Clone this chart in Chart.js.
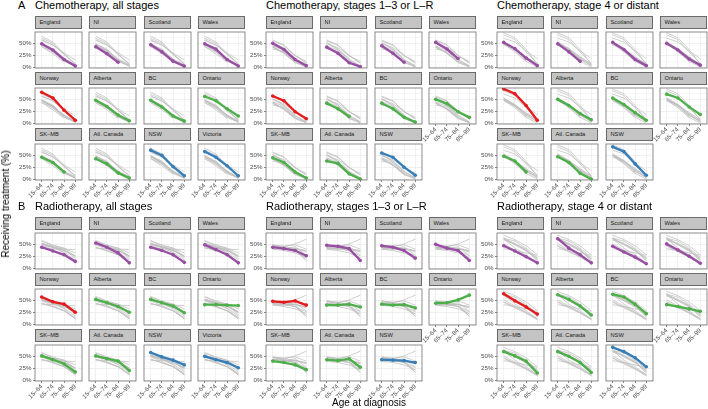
<!DOCTYPE html>
<html><head><meta charset="utf-8">
<script src="https://cdn.jsdelivr.net/npm/chart.js@4.4.1/dist/chart.umd.min.js"></script>
<style>
body{margin:0;width:708px;height:409px;background:#fff;position:relative;overflow:hidden;font-family:"Liberation Sans",Arial,sans-serif}
.t{position:absolute;white-space:nowrap;color:#000}
.strip{position:absolute;box-sizing:border-box;border:1px solid #6a6a6a;background:#c4c4c4;font-size:5.7px;color:#1a1a1a;padding-left:3.5px;line-height:11px;white-space:nowrap;overflow:hidden}
canvas{position:absolute}
</style></head><body>
<script>
// ---------- data ----------
const ageGroups = ["15–64","65–74","75–84","85–99"];
const jurisdictions = ["England","NI","Scotland","Wales","Norway","Alberta","BC","Ontario","SK–MB","Atl. Canada","NSW","Victoria"];
const jurisdictionColors = ["#984EA3","#984EA3","#984EA3","#984EA3","#E41A1C","#4DAF4A","#4DAF4A","#4DAF4A","#4DAF4A","#4DAF4A","#377EB8","#377EB8"];
const yTicks = [0, 0.125, 0.25, 0.375, 0.5, 0.625];

// percent receiving treatment, by age group (null = not shown)
const chemoAll = [
  [49,36,16,2],[43,28,10,null],[47,32,12,2],[49,38,16,2],
  [65,53,27,6],[48,35,17,5],[48,34,15,4],[56,47,30,15],
  [46,35,15,null],[43,32,13,2],[61,50,26,7],[58,46,28,7]
];
const chemoEarly = [
  [50,37,16,3],[42,29,9,1],[45,29,10,null],[52,38,18,null],
  [57,47,24,9],[42,30,14,null],[42,30,12,2],[50,41,24,12],
  [45,35,15,2],[38,33,11,0],[55,46,25,8]
];
const chemoLate = [
  [52,39,19,3],[49,32,12,null],[52,37,16,3],[50,36,17,4],
  [72,62,37,6],[50,37,20,7],[53,39,22,6],[61,53,34,18],
  [48,38,15,null],[47,35,12,0],[68,58,32,8]
];
const radioAll = [
  [44,36,28,14],[53,44,32,11],[44,37,28,12],[49,39,28,11],
  [57,47,42,25],[52,45,37,25],[52,45,38,24],[41,41,40,39],
  [51,43,34,17],[51,45,40,20],[58,49,42,32],[50,43,37,26]
];
const radioEarly = [
  [44,41,37,26],[48,46,41,16],[47,44,37,21],[50,42,37,16],
  [48,46,49,40],[40,40,42,36],[42,40,41,34],[44,45,51,61],
  [40,37,32,22],[43,41,45,27],[43,42,41,37]
];
const radioLate = [
  [47,36,24,11],[62,42,28,11],[46,34,23,9],[51,38,25,10],
  [64,49,36,21],[62,52,38,19],[63,57,42,22],[41,37,32,27],
  [60,51,40,15],[60,50,37,16],[69,60,47,28]
];
const panelTitles = ["Chemotherapy, all stages","Chemotherapy, stages 1–3 or L–R","Chemotherapy, stage 4 or distant",
                     "Radiotherapy, all stages","Radiotherapy, stages 1–3 or L–R","Radiotherapy, stage 4 or distant"];
const panelLetters = ["A","","","B","",""];
const panelData = [chemoAll, chemoEarly, chemoLate, radioAll, radioEarly, radioLate];

// ---------- layout ----------
Chart.defaults.font.family = '"Liberation Sans", Arial, sans-serif';
const panelX = [35, 266, 497];
const panelY = [16, 217];
const pitchX = 54.4, pitchY = 56, facetW = 47, stripH = 13, plotH = 39;
const yAxisW = 30, xAxisH = 26, padR = 4;

function addText(txt, css, cls) {
  const d = document.createElement('div');
  d.className = cls || 't';
  d.textContent = txt;
  Object.assign(d.style, css);
  document.body.appendChild(d);
  return d;
}

const frame = {
  id: 'frame',
  afterDraw(c) {
    const a = c.chartArea, g = c.ctx;
    g.save(); g.strokeStyle = '#707070'; g.lineWidth = 0.8;
    g.strokeRect(a.left, a.top, a.right - a.left, a.bottom - a.top);
    g.restore();
  }
};
const toPts = arr => arr.map((v, i) => ({x: i, y: v === null ? null : v / 100}));
const zeroPad = s => { s.paddingLeft = 0; s.paddingRight = 0; s.paddingTop = 0; s.paddingBottom = 0; };
const isMajor = v => Math.abs((v / 0.25) - Math.round(v / 0.25)) < 1e-6;

panelData.forEach((series, p) => {
  const r = p < 3 ? 0 : 1, c = p % 3;
  if (panelLetters[p]) addText(panelLetters[p], {left: '18px', top: (panelY[r] - 16) + 'px', fontSize: '11px', lineHeight: '11px'});
  addText(panelTitles[p], {left: panelX[c] + 'px', top: (panelY[r] - 16) + 'px', fontSize: '11px', lineHeight: '11px'});
  const n = series.length;
  series.forEach((vals, k) => {
    const row = Math.floor(k / 4), col = k % 4;
    const fx = Math.round(panelX[c] + col * pitchX);
    const st = panelY[r] + row * pitchY;
    const showY = col === 0, showX = k + 4 >= n;
    addText(jurisdictions[k], {left: fx + 'px', top: st + 'px', width: facetW + 'px', height: stripH + 'px'}, 'strip');
    const cv = document.createElement('canvas');
    const W = yAxisW + facetW + padR, H = 1 + plotH + xAxisH;
    cv.width = W; cv.height = H;
    cv.style.left = (fx - yAxisW) + 'px'; cv.style.top = (st + stripH - 1) + 'px';
    cv.style.width = W + 'px'; cv.style.height = H + 'px';
    document.body.appendChild(cv);
    const datasets = [{
      data: toPts(vals), borderColor: jurisdictionColors[k], backgroundColor: jurisdictionColors[k],
      borderWidth: 2.3, pointRadius: 1.8, pointBorderWidth: 0, order: 0, spanGaps: false
    }];
    series.forEach((o, j) => {
      if (j === k) return;
      datasets.push({data: toPts(o), borderColor: '#bfbfbf', borderWidth: 0.75, pointRadius: 0, order: 1, spanGaps: false});
    });
    new Chart(cv, {
      type: 'line',
      data: {datasets},
      options: {
        responsive: false, animation: false, events: [],
        layout: {padding: {left: 0, right: padR, top: 1, bottom: 0}},
        plugins: {legend: {display: false}, tooltip: {enabled: false}},
        scales: {
          x: {
            type: 'linear', min: -0.6, max: 3.6,
            afterBuildTicks: s => { s.ticks = ageGroups.map((_, i) => ({value: i})); },
            afterFit: s => { s.height = xAxisH; zeroPad(s); },
            ticks: {display: showX, autoSkip: false, minRotation: 45, maxRotation: 45, padding: 0,
                    font: {size: 6.2}, color: '#4d4d4d', callback: v => ageGroups[v]},
            grid: {color: '#ebebeb', lineWidth: 0.7, tickLength: 2, tickColor: showX ? '#555' : 'rgba(0,0,0,0)'},
            border: {display: false}
          },
          y: {
            min: -0.02, max: 0.74,
            afterBuildTicks: s => { s.ticks = yTicks.map(v => ({value: v})); },
            afterFit: s => { s.width = yAxisW; zeroPad(s); },
            ticks: {display: showY, padding: 1.5, font: {size: 6.2}, color: '#4d4d4d',
                    callback: v => isMajor(v) ? Math.round(v * 100) + '%' : ''},
            grid: {
              color: ctx => isMajor(ctx.tick.value) ? '#e9e9e9' : '#f1f1f1',
              lineWidth: ctx => isMajor(ctx.tick.value) ? 0.7 : 0.45,
              tickLength: 2,
              tickColor: ctx => (showY && isMajor(ctx.tick.value)) ? '#555' : 'rgba(0,0,0,0)'
            },
            border: {display: false}
          }
        }
      },
      plugins: [frame]
    });
  });
});

addText('Age at diagnosis', {left: '332px', top: '398px', fontSize: '10px', lineHeight: '10px'});
const yt = addText('Receiving treatment (%)', {left: '5.5px', top: '204px', fontSize: '10px', lineHeight: '10px'});
yt.style.transform = 'translate(-50%,-50%) rotate(-90deg)';
</script>
</body></html>
